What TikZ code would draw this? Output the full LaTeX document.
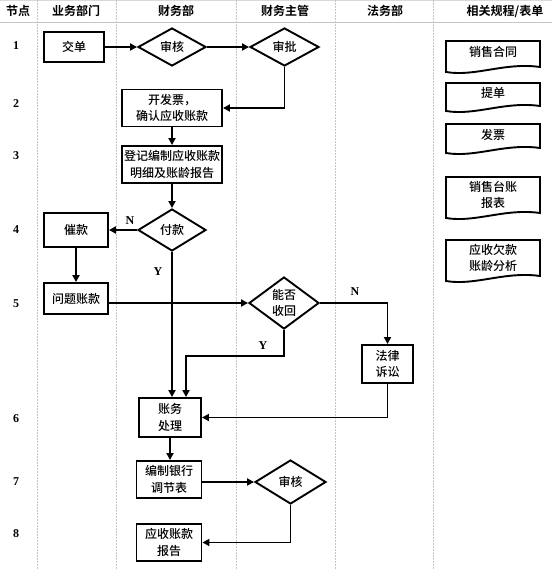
\documentclass[tikz,border=0pt]{standalone}
\usepackage{fontspec}
\setmainfont{Liberation Serif}
\newfontfamily\cjk{Noto Sans CJK SC Medium}[BoldFont=Noto Sans CJK SC Bold]
\usetikzlibrary{shapes.geometric,arrows.meta}

\begin{document}
\begin{tikzpicture}[x=1pt,y=-1pt]
	\tikzstyle{every node}=[font=\cjk\fontsize{12}{16.5}\selectfont]
	\tikzstyle{box}=[draw,line width=1.9pt,align=center,inner sep=1pt]
	\tikzstyle{dec}=[draw,diamond,line width=1.9pt,align=center,inner sep=0pt]
	\tikzstyle{flow}=[line width=1.9pt,-{Triangle[length=7pt,width=7pt]}]
	\tikzstyle{lane}=[gray!45,line width=0.8pt,dash pattern=on 2pt off 1pt]
	\tikzstyle{head}=[font=\cjk\bfseries\fontsize{12}{14}\selectfont]
	\tikzstyle{num}=[font=\bfseries\fontsize{12}{14}\selectfont]
	\useasboundingbox (0,0) rectangle (552,569);
	% lanes and header
	\draw[gray!30,line width=0.8pt] (0,0.5) -- (552,0.5);
	\draw[gray!45,line width=0.8pt] (0,22) -- (552,22);
	\foreach \x in {37,116,236,335,433}
		\draw[lane] (\x,0) -- (\x,569);
	\node[head] (h1) at (18,11) {节点};
	\node[head] (h2) at (76,11) {业务部门};
	\node[head] (h3) at (176,11) {财务部};
	\node[head] (h4) at (285,11) {财务主管};
	\node[head] (h5) at (385,11) {法务部};
	\node[head] (h6) at (505,11) {相关规程/表单};
	\foreach \y [count=\i] in {46,104,156,230,304,419,482,534}
		\node[num] (r\i) at (16,\y) {\i};
	% steps
	\node[box,minimum width=60pt,minimum height=30pt] (jiaodan) at (74,47) {交单};
	\node[dec,minimum width=68pt,minimum height=38pt] (shenhe) at (172,47) {审核};
	\node[dec,minimum width=69pt,minimum height=38pt] (shenpi) at (284.5,47) {审批};
	\node[box,minimum width=100pt,minimum height=37pt] (kaipiao) at (172,108) {开发票，\\确认应收账款};
	\node[box,minimum width=100pt,minimum height=37pt] (dengji) at (172,164.5) {登记编制应收账款\\明细及账龄报告};
	\node[dec,minimum width=68pt,minimum height=42pt] (fukuan) at (172,230) {付款};
	\node[box,minimum width=64pt,minimum height=34pt] (cuikuan) at (76,230) {催款};
	\node[box,minimum width=64pt,minimum height=31pt] (wenti) at (76,298.5) {问题账款};
	\node[dec,minimum width=70pt,minimum height=52pt] (nengfou) at (284,303) {能否\\收回};
	\node[box,minimum width=51pt,minimum height=38pt] (falv) at (387.5,364) {法律\\诉讼};
	\node[box,minimum width=62pt,minimum height=39pt] (zhangwu) at (170,417.5) {账务\\处理};
	\node[box,minimum width=65pt,minimum height=37pt] (bianzhi) at (169,479.5) {编制银行\\调节表};
	\node[dec,minimum width=71pt,minimum height=44pt] (shenhe2) at (290.5,482) {审核};
	\node[box,minimum width=65pt,minimum height=37pt] (baogao) at (169,542.5) {应收账款\\报告};
	% documents
	\foreach \yt/\yb/\yc/\txt/\nm in {41/72/52/销售合同/d1,83/111/93/提单/d2,124/153/135/发票/d3,
		177/218/195/{销售台账\\报表}/d4,240/281/258/{应收欠款\\账龄分析}/d5}{
		\draw[line width=1.9pt] (446,\yt) -- (540,\yt) -- (540,\yb-5)
			.. controls (505,\yb-10) and (475,\yb+5) .. (446,\yb) -- cycle;
		\node[align=center] (\nm) at (493,\yc) {\txt};
	}
	% connectors
	\draw[flow] (jiaodan) -- (shenhe);
	\draw[flow] (shenhe) -- (shenpi);
	\draw[flow] (shenpi.south) |- (kaipiao.east);
	\draw[flow] (kaipiao) -- (dengji);
	\draw[flow] (dengji) -- (fukuan);
	\draw[flow] (fukuan) -- (cuikuan);
	\draw[flow] (cuikuan) -- (wenti);
	\draw[flow] (wenti.east |- nengfou) -- (nengfou.west);
	\draw[flow] (fukuan.south) -- (fukuan.south |- zhangwu.north);
	\coordinate (ybend) at (186,356);
	\draw[flow] (nengfou.south) |- (ybend) -- (ybend |- zhangwu.north);
	\draw[flow] (nengfou.east) -| (falv.north);
	\draw[flow] (falv.south) |- (zhangwu.east);
	\draw[flow] (zhangwu.south) -- (zhangwu.south |- bianzhi.north);
	\draw[flow] (bianzhi.east |- shenhe2) -- (shenhe2.west);
	\draw[flow] (shenhe2.south) |- (baogao.east);
	\node[num] (n1) at (130,221) {N};
	\node[num] (y1) at (158,272) {Y};
	\node[num] (n2) at (355,292) {N};
	\node[num] (y2) at (263,346) {Y};
\end{tikzpicture}
\end{document}
